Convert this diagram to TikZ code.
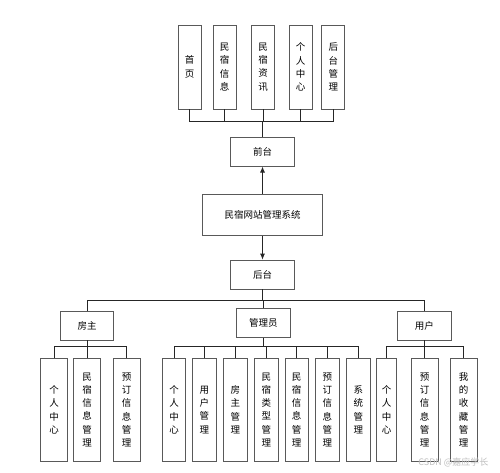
\documentclass[tikz,border=0pt]{standalone}
\usepackage{fontspec}
\newfontfamily\cjk{Noto Sans CJK SC}
\usetikzlibrary{arrows.meta}
\tikzset{
  box/.style={draw=black!65, line width=0.8pt, fill=white, inner sep=0pt, align=center,
    font=\cjk\fontsize{9.5}{13.3}\selectfont},
  vbox/.style={box, minimum width=23pt, minimum height=84pt},
  lbox/.style={box, minimum width=27pt, minimum height=102.5pt},
  sbox/.style={box, minimum width=23.5pt, minimum height=102.5pt},
  conn/.style={draw=black!85, line width=0.8pt},
  arr/.style={conn, -{Latex[length=6pt,width=5pt]}}
}
\begin{document}
\begin{tikzpicture}[x=1pt,y=-1pt]
\fill[white] (0,0) rectangle (500,472);
\useasboundingbox (0,0) rectangle (500,472);
% top row
\node[vbox] (t1) at (189.7,67) {首\\页};
\node[vbox] (t2) at (224.7,67) {民\\宿\\信\\息};
\node[vbox] (t3) at (263,67) {民\\宿\\资\\讯};
\node[vbox] (t4) at (300.7,67) {个\\人\\中\\心};
\node[vbox] (t5) at (333.3,67) {后\\台\\管\\理};
\coordinate (busT) at (262.5,121);
% middle
\node[box, minimum width=63.6pt, minimum height=28.3pt] (front) at (262.5,152) {前台};
\node[box, minimum width=119.6pt, minimum height=41.7pt] (sys) at (262.5,215) {民宿网站管理系统};
\node[box, minimum width=64.4pt, minimum height=29pt] (back) at (262.5,274.5) {后台};
\coordinate (busM) at (262.5,300.7);
\node[box, minimum width=53.7pt, minimum height=28.7pt] (fz) at (87,325.7) {房主};
\node[box, minimum width=54pt, minimum height=28.3pt] (gly) at (263.3,323) {管理员};
\node[box, minimum width=54pt, minimum height=28.7pt] (yh) at (424.3,325.7) {用户};
\coordinate (busA) at (87,346.7);
\coordinate (busB) at (263.3,346.7);
\coordinate (busC) at (424.3,346.7);
% bottom: 房主
\node[lbox] (a1) at (54.2,409.8) {个\\人\\中\\心};
\node[lbox] (a2) at (87,409.8) {民\\宿\\信\\息\\管\\理};
\node[lbox] (a3) at (126.7,409.8) {预\\订\\信\\息\\管\\理};
% bottom: 管理员
\node[sbox] (b1) at (174,409.8) {个\\人\\中\\心};
\node[sbox] (b2) at (204.3,409.8) {用\\户\\管\\理};
\node[sbox] (b3) at (235.3,409.8) {房\\主\\管\\理};
\node[sbox] (b4) at (266.3,409.8) {民\\宿\\类\\型\\管\\理};
\node[sbox] (b5) at (296.7,409.8) {民\\宿\\信\\息\\管\\理};
\node[sbox] (b6) at (327.3,409.8) {预\\订\\信\\息\\管\\理};
\node[sbox] (b7) at (358.3,409.8) {系\\统\\管\\理};
% bottom: 用户
\node[box, minimum width=20pt, minimum height=102.5pt] (c1) at (386.7,409.8) {个\\人\\中\\心};
\node[lbox] (c2) at (424.5,409.8) {预\\订\\信\\息\\管\\理};
\node[lbox] (c3) at (463.7,409.8) {我\\的\\收\\藏\\管\\理};
% connectors top
\foreach \n in {t1,t2,t3,t4,t5} \draw[conn] (\n.south) |- (busT);
\draw[conn] (busT) -- (front.north);
\draw[arr] (sys.north) -- (front.south);
\draw[arr] (sys.south) -- (back.north);
\draw[conn] (back.south) -- (busM);
\foreach \n in {fz,gly,yh} \draw[conn] (\n.north) |- (busM);
\draw[conn] (fz.south) -- (busA);
\foreach \n in {a1,a2,a3} \draw[conn] (\n.north) |- (busA);
\draw[conn] (gly.south) -- (busB);
\foreach \n in {b1,b2,b3,b4,b5,b6,b7} \draw[conn] (\n.north) |- (busB);
\draw[conn] (yh.south) -- (busC);
\foreach \n in {c1,c2,c3} \draw[conn] (\n.north) |- (busC);
% watermark
\node[font=\cjk\fontsize{9}{10}\selectfont, text=black!25, anchor=east] (wm) at (492,462) {CSDN @嘉应学长};
\end{tikzpicture}
\end{document}
